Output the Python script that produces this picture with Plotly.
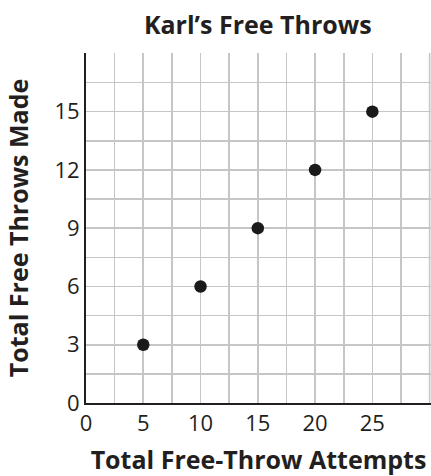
import plotly.graph_objects as go

attempts = [5, 10, 15, 20, 25]
made = [3, 6, 9, 12, 15]
x_ticks = [0, 5, 10, 15, 20, 25]
y_ticks = [0, 3, 6, 9, 12, 15]
x_grid = [0, 2.5, 5, 7.5, 10, 12.5, 15, 17.5, 20, 22.5, 25, 27.5, 30]
y_grid = [0, 1.5, 3, 4.5, 6, 7.5, 9, 10.5, 12, 13.5, 15, 16.5, 18]

title_text = "Karl’s Free Throws"
x_title = "Total Free-Throw Attempts"
y_title = "Total Free Throws Made"

FONT = "Open Sans"
TXT = "#231f20"
GRID = "#c6c6c9"

W, H = 431, 476

fig = go.Figure()
fig.add_trace(go.Scatter(
    x=attempts, y=made, mode="markers",
    marker=dict(color="#1a1a1a", size=12.5),
    showlegend=False, cliponaxis=False, hoverinfo="skip",
))

fig.update_layout(
    width=W, height=H,
    margin=dict(l=86, r=0, t=53, b=73, autoexpand=False),
    paper_bgcolor="white", plot_bgcolor="white",
    font=dict(family=FONT, color=TXT),
    title=dict(text="<b>" + title_text + "</b>", x=(343.5 / 2 + 86) / W, xref="container", xanchor="center",
               y=1 - 25 / H, yref="container", yanchor="middle",
               font=dict(size=25, family=FONT, color=TXT)),
)

# grey frame line on the right edge of the grid (last grid column)
fig.add_shape(type="line", xref="x", yref="paper", x0=x_grid[-1], x1=x_grid[-1], y0=0, y1=1,
              line=dict(color=GRID, width=1.6), layer="below")

fig.update_xaxes(
    range=[0, 30.12],
    tickvals=x_grid,
    ticktext=[str(int(v)) if v in x_ticks else "" for v in x_grid],
    showgrid=True, gridcolor=GRID, gridwidth=1.6,
    showline=True, linecolor="#231f20", linewidth=2,
    zeroline=False, ticks="", ticklabelstandoff=0,
    tickfont=dict(size=22, family=FONT, color=TXT),
    title=dict(text="<b>" + x_title + "</b>", font=dict(size=25, family=FONT, color=TXT), standoff=23),
    automargin=False, fixedrange=True,
)
fig.update_yaxes(
    range=[0, 18.02],
    tickvals=y_grid,
    ticktext=[str(int(v)) if v in y_ticks else "" for v in y_grid],
    showgrid=True, gridcolor=GRID, gridwidth=1.6,
    showline=True, linecolor="#231f20", linewidth=2,
    zeroline=False, ticks="", ticklabelstandoff=0,
    tickfont=dict(size=22, family=FONT, color=TXT),
    title=dict(text="<b>" + y_title + "</b>", font=dict(size=25, family=FONT, color=TXT), standoff=19),
    automargin=False, fixedrange=True,
)

# remove the page's default 8px body margin so the figure fills the window exactly
fig.write_html("out.html", config={"displayModeBar": False, "staticPlot": True},
               post_script="document.body.style.margin='0';document.body.style.overflow='hidden';")
